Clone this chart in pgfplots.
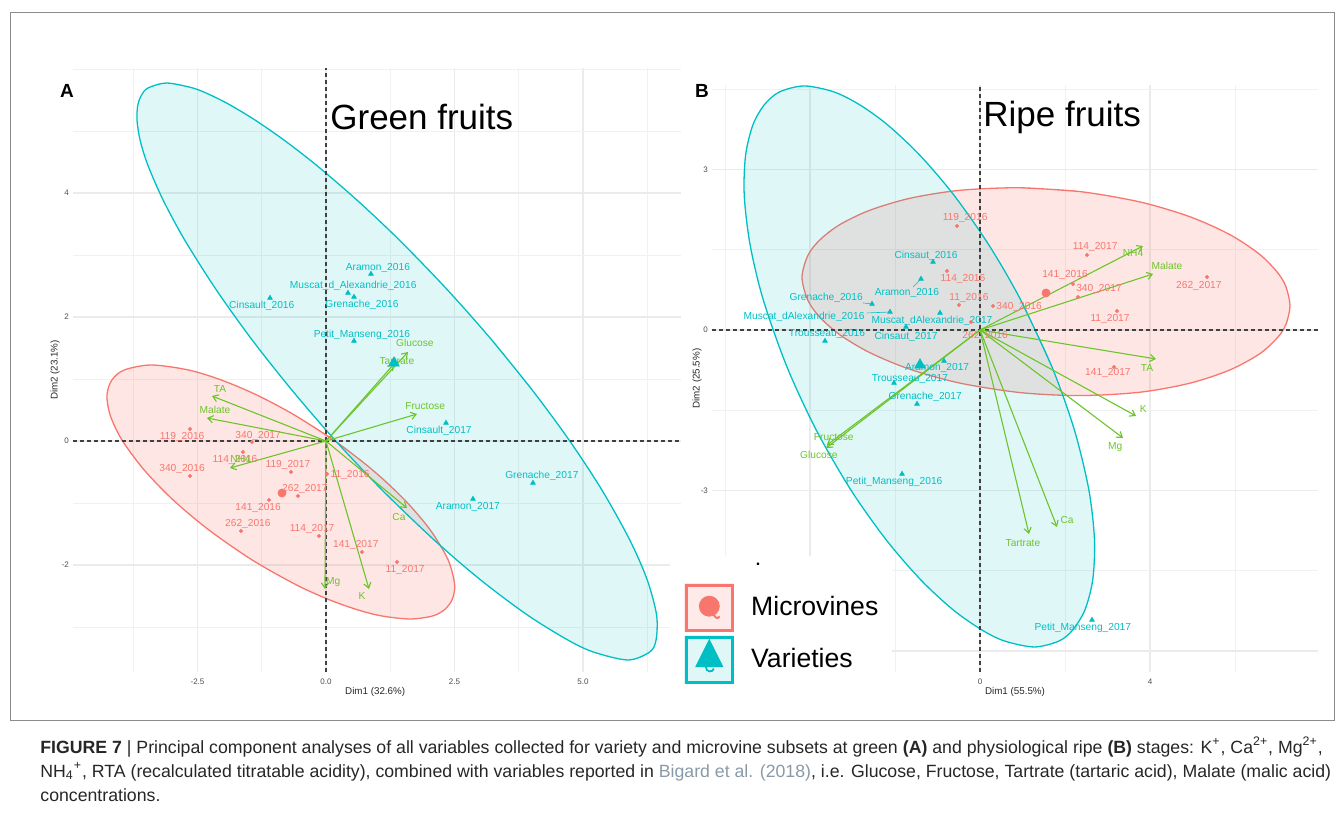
\documentclass[border=0pt]{standalone}
\usepackage{pgfplots}
\pgfplotsset{compat=1.18}
\usetikzlibrary{arrows.meta}
\usepackage{fontspec}
\setmainfont{Liberation Sans}
\definecolor{mred}{HTML}{F8766D}
\definecolor{mteal}{HTML}{00BFC4}
\definecolor{mgreen}{RGB}{108,196,42}
\definecolor{gridc}{HTML}{EBEBEB}
\definecolor{tickc}{HTML}{4D4D4D}
\definecolor{linkc}{HTML}{8A99A8}
\newcommand{\fs}[1]{\fontsize{#1}{#1}\selectfont}
\tikzset{
 rl/.style={font=\fs{5.1}, text=mred, inner sep=0pt},
 tl/.style={font=\fs{5.1}, text=mteal, inner sep=0pt},
 gl/.style={font=\fs{5.1}, text=mgreen, inner sep=0pt},
}
\pgfplotsset{
 pcastyle/.style={
  scale only axis, axis line style={draw=none}, tick style={draw=none},
  grid=both, major grid style={color=gridc, line width=0.55pt},
  minor grid style={color=gridc!70, line width=0.35pt},
  tick label style={font=\fs{4}, text=tickc},
  xticklabel style={yshift=0pt},
  yticklabel style={xshift=1.5pt},
  label style={font=\fs{4.9}, text=black!85},
 },
 ell/.style={smooth, line width=0.65pt},
 dl/.style={color=black!75, line width=0.6pt, dash pattern=on 2pt off 1.5pt},
 arr/.style={color=mgreen, line width=0.55pt, -{Straight Barb[length=2.6pt,width=3.6pt]}},
}
\begin{document}
\begin{tikzpicture}
\path[use as bounding box] (0,0) rectangle (672pt,-408pt);
\draw[black!45, line width=0.5pt] (5pt,-6pt) rectangle (667pt,-360pt);

% ---------------- Panel A ----------------
\begin{axis}[pcastyle, at={(36.5pt,-336pt)}, anchor=south west, width=304pt, height=302pt,
 xmin=-4.922, xmax=6.907, ymin=-3.726, ymax=6.016,
 xtick={-2.5,0,2.5,5}, xticklabels={-2.5,0.0,2.5,5.0}, minor xtick={-3.75,-1.25,1.25,3.75,6.25},
 ytick={-2,0,2,4}, yticklabels={-2,0,2,4}, minor ytick={-3,-1,1,3,5,6},
 xlabel={Dim1 (32.6\%)}, ylabel={Dim2 (23.1\%)},
 xlabel style={at={(axis description cs:0.497,-0.0331)}, anchor=center},
 ylabel style={at={(axis description cs:-0.0296,0.5)}, anchor=center},
]
\addplot[ell, draw=mred, fill=mred, fill opacity=0.18] coordinates {
(-0.613,0.419) (0.148,0.016) (0.907,-0.468) (1.533,-0.952) (2.029,-1.435) (2.377,-1.919)
(2.504,-2.323) (2.451,-2.565) (2.298,-2.726) (2.070,-2.823) (1.642,-2.871) (1.093,-2.823)
(0.628,-2.726) (0.078,-2.565) (-0.570,-2.323) (-1.436,-1.919) (-2.278,-1.435) (-2.973,-0.952)
(-3.537,-0.468) (-3.969,0.016) (-4.200,0.419) (-4.261,0.742) (-4.165,0.984) (-3.926,1.145)
(-3.399,1.226) (-2.673,1.145) (-2.037,0.984) (-1.346,0.742) (-0.613,0.419) (0.148,0.016)};
\addplot[ell, draw=mteal, fill=mteal, fill opacity=0.12] coordinates {
(3.226,1.629) (4.012,0.823) (4.730,0.016) (5.368,-0.790) (5.911,-1.597) (6.251,-2.242)
(6.432,-2.806) (6.422,-3.210) (6.300,-3.403) (5.875,-3.532) (5.202,-3.403) (4.706,-3.210)
(3.918,-2.806) (3.010,-2.242) (2.105,-1.597) (1.091,-0.790) (0.173,0.016) (-0.665,0.823)
(-1.436,1.629) (-2.132,2.435) (-2.749,3.242) (-3.169,3.887) (-3.467,4.452) (-3.617,4.855)
(-3.677,5.177) (-3.661,5.419) (-3.588,5.581) (-3.461,5.694) (-3.105,5.774) (-2.593,5.694)
(-2.249,5.581) (-1.864,5.419) (-1.381,5.177) (-0.819,4.855) (-0.191,4.452) (0.601,3.887)
(1.426,3.242) (2.366,2.435) (3.226,1.629) (4.012,0.823)};
\addplot[dl] coordinates {(-4.922,0) (6.907,0)};
\addplot[dl] coordinates {(0,-3.726) (0,6.016)};
% arrows
\addplot[arr] coordinates {(0,0) (-2.218,0.726)};
\addplot[arr] coordinates {(0,0) (-2.315,0.371)};
\addplot[arr] coordinates {(0,0) (-1.868,-0.435)};
\addplot[arr] coordinates {(0,0) (1.770,0.435)};
\addplot[arr] coordinates {(0,0) (1.595,1.435)};
\addplot[arr] coordinates {(0,0) (1.323,1.242)};
\addplot[arr] coordinates {(0,0) (1.576,-1.081)};
\addplot[arr] coordinates {(0,0) (-0.02,-2.387)};
\addplot[arr] coordinates {(0,0) (0.837,-2.387)};
% points
\addplot[only marks, mark=*, mark size=0.8pt, color=mred] coordinates {
(-2.646,0.194) (-1.440,-0.016) (-1.615,-0.177) (-2.646,-0.565) (-0.681,-0.5) (0.02,-0.532)
(-0.545,-0.887) (-1.109,-0.952) (-1.654,-1.452) (-0.136,-1.532) (0.700,-1.790) (1.381,-1.952)};
\addplot[only marks, mark=*, mark size=2pt, color=mred] coordinates {(-0.856,-0.839)};
\addplot[only marks, mark=triangle*, mark size=1.3pt, color=mteal] coordinates {
(0.875,2.694) (0.428,2.387) (0.545,2.323) (-1.089,2.306) (0.545,1.613) (2.335,0.290)
(4.027,-0.677) (2.860,-0.935)};
\addplot[only marks, mark=triangle*, mark size=3pt, color=mteal] coordinates {(1.323,1.258)};
% labels
\node[rl] at (axis cs:-2.80,0.06) {119\_2016};
\node[rl] at (axis cs:-1.32,0.08) {340\_2017};
\node[rl] at (axis cs:-1.77,-0.31) {114\_2016};
\node[rl] at (axis cs:-2.80,-0.45) {340\_2016};
\node[rl] at (axis cs:-0.74,-0.39) {119\_2017};
\node[rl] at (axis cs:0.47,-0.55) {11\_2016};
\node[rl] at (axis cs:-0.41,-0.77) {262\_2017};
\node[rl] at (axis cs:-1.32,-1.08) {141\_2016};
\node[rl] at (axis cs:-1.52,-1.34) {262\_2016};
\node[rl] at (axis cs:-0.27,-1.42) {114\_2017};
\node[rl] at (axis cs:0.58,-1.68) {141\_2017};
\node[rl] at (axis cs:1.54,-2.08) {11\_2017};
\node[tl] at (axis cs:1.01,2.79) {Aramon\_2016};
\node[tl] at (axis cs:0.53,2.50) {Muscat\_d\_Alexandrie\_2016};
\node[tl] at (axis cs:0.70,2.19) {Grenache\_2016};
\node[tl] at (axis cs:-1.25,2.18) {Cinsault\_2016};
\node[tl] at (axis cs:0.70,1.71) {Petit\_Manseng\_2016};
\node[tl] at (axis cs:2.20,0.16) {Cinsault\_2017};
\node[tl] at (axis cs:4.20,-0.56) {Grenache\_2017};
\node[tl] at (axis cs:2.76,-1.06) {Aramon\_2017};
\node[gl] at (axis cs:-2.06,0.84) {TA};
\node[gl] at (axis cs:-2.16,0.50) {Malate};
\node[gl] at (axis cs:-1.66,-0.29) {NH4};
\node[gl] at (axis cs:1.93,0.56) {Fructose};
\node[gl] at (axis cs:1.73,1.58) {Glucose};
\node[gl] at (axis cs:1.38,1.29) {Tartrate};
\node[gl] at (axis cs:1.42,-1.23) {Ca};
\node[gl] at (axis cs:0.14,-2.27) {Mg};
\node[gl] at (axis cs:0.70,-2.50) {K};
\end{axis}

% ---------------- Panel B ----------------
\begin{axis}[pcastyle, at={(356pt,-336pt)}, anchor=south west, width=303pt, height=293.5pt,
 xmin=-6.306, xmax=7.953, ymin=-6.393, ymax=4.579,
 xtick={-4,0,4}, xticklabels={-4,0,4}, minor xtick={-6,-2,2,6},
 ytick={-6,-3,0,3}, yticklabels={-6,-3,0,3}, minor ytick={-4.5,-1.5,1.5,4.5},
 xlabel={Dim1 (55.5\%)}, ylabel={Dim2 (25.5\%)},
 xlabel style={at={(axis description cs:0.5,-0.0341)}, anchor=center},
 ylabel style={at={(axis description cs:-0.0248,0.5)}, anchor=center},
 legend cell align=left,
 legend style={at={(-0.0693,0.1976)}, anchor=north west, fill=white, draw=none,
   inner xsep=7pt, inner ysep=13.5pt, row sep=1.5pt, column sep=8.5pt,
   font=\fs{13.3}, nodes={inner sep=0pt}},
]
\addlegendimage{legend image code/.code={
  \fill[mred!15] (0,-12pt) rectangle (24.5pt,12pt);
  \draw[mred, line width=1.5pt] (0.75pt,-11.25pt) rectangle (23.75pt,11.25pt);
  \fill[mred] (12.25pt,0.8pt) circle (5pt);
  \draw[mred, line width=1pt] (14.5pt,-3.5pt) .. controls (15.5pt,-5.5pt) and (17pt,-5.5pt) .. (17.5pt,-4.5pt);
}}
\addlegendentry{Microvines}
\addlegendimage{legend image code/.code={
  \fill[mteal!12] (0,-12pt) rectangle (24.5pt,12pt);
  \draw[mteal, line width=1.5pt] (0.75pt,-11.25pt) rectangle (23.75pt,11.25pt);
  \fill[mteal] (12.25pt,10pt) -- (19pt,-3.5pt) -- (5.5pt,-3.5pt) -- cycle;
  \draw[mteal, line width=0.9pt] (10.5pt,-3.5pt) .. controls (10.5pt,-6.5pt) and (14pt,-6.5pt) .. (14.5pt,-4.5pt);
}}
\addlegendentry{Varieties}
\addplot[ell, draw=mred, fill=mred, fill opacity=0.18, forget plot] coordinates {
(0.941,2.658) (2.353,2.587) (3.765,2.393) (4.941,2.116) (5.882,1.781) (6.588,1.409)
(7.012,1.062) (7.200,0.804) (7.294,0.452) (7.200,0.108) (7.012,-0.131) (6.588,-0.441)
(5.882,-0.746) (4.941,-0.994) (3.765,-1.163) (2.353,-1.226) (0.941,-1.170) (-0.471,-0.993)
(-1.647,-0.735) (-2.588,-0.426) (-3.294,-0.092) (-3.765,0.236) (-4.047,0.550) (-4.188,0.981)
(-4.047,1.398) (-3.765,1.686) (-3.294,1.972) (-2.588,2.239) (-1.647,2.462) (-0.471,2.611)
(0.941,2.658) (2.353,2.587)};
\addplot[ell, draw=mteal, fill=mteal, fill opacity=0.12, forget plot] coordinates {
(0.958,0.561) (1.689,-0.682) (2.221,-1.869) (2.562,-2.991) (2.694,-3.925) (2.652,-4.673)
(2.468,-5.234) (2.181,-5.607) (1.861,-5.813) (1.278,-5.925) (0.576,-5.813) (0.045,-5.607)
(-0.628,-5.234) (-1.391,-4.673) (-2.205,-3.925) (-3.038,-2.991) (-3.854,-1.869) (-4.546,-0.682)
(-5.099,0.561) (-5.409,1.589) (-5.548,2.523) (-5.515,3.271) (-5.344,3.832) (-5.078,4.206)
(-4.720,4.449) (-4.134,4.561) (-3.435,4.449) (-2.824,4.206) (-2.172,3.832) (-1.421,3.271)
(-0.616,2.523) (0.209,1.589) (0.958,0.561) (1.689,-0.682)};
\addplot[dl, forget plot] coordinates {(-6.306,0) (7.953,0)};
\addplot[dl, forget plot] coordinates {(0,-6.393) (0,4.579)};
% repel segments
\addplot[mteal, line width=0.3pt, forget plot] coordinates {(-1.576,0.804) (-1.388,0.953)};
\addplot[mteal, line width=0.3pt, forget plot] coordinates {(-2.753,0.505) (-2.541,0.486)};
\addplot[mteal, line width=0.3pt, forget plot] coordinates {(-2.659,0.318) (-2.118,0.336)};
% arrows
\addplot[arr, forget plot] coordinates {(0,0) (3.835,1.570)};
\addplot[arr, forget plot] coordinates {(0,0) (4.071,1.047)};
\addplot[arr, forget plot] coordinates {(0,0) (4.141,-0.542)};
\addplot[arr, forget plot] coordinates {(0,0) (3.671,-1.607)};
\addplot[arr, forget plot] coordinates {(0,0) (3.365,-2.019)};
\addplot[arr, forget plot] coordinates {(0,0) (1.812,-3.682)};
\addplot[arr, forget plot] coordinates {(0,0) (1.153,-3.813)};
\addplot[arr, forget plot] coordinates {(0,0) (-3.60,-2.150)};
\addplot[arr, forget plot] coordinates {(0,0) (-3.62,-2.206)};
% points
\addplot[only marks, mark=*, mark size=0.8pt, color=mred, forget plot] coordinates {
(-0.541,1.944) (-0.776,1.103) (-0.494,0.467) (0.306,0.449) (-0.212,0.150) (2.188,0.860)
(2.518,1.402) (2.306,0.617) (3.224,0.355) (5.341,0.991) (3.153,-0.692)};
\addplot[only marks, mark=*, mark size=2pt, color=mred, forget plot] coordinates {(1.553,0.692)};
\addplot[only marks, mark=triangle*, mark size=1.3pt, color=mteal, forget plot] coordinates {
(-1.106,1.271) (-1.388,0.953) (-2.541,0.486) (-2.118,0.336) (-0.941,0.318) (-1.741,0.056)
(-3.647,-0.206) (-0.847,-0.579) (-2.024,-0.991) (-1.482,-1.383) (-1.835,-2.692) (2.635,-5.421)};
\addplot[only marks, mark=triangle*, mark size=3pt, color=mteal, forget plot] coordinates {(-1.412,-0.654)};
% labels
\node[rl] at (axis cs:-0.35,2.09) {119\_2016};
\node[rl] at (axis cs:-0.40,0.95) {114\_2016};
\node[rl] at (axis cs:-0.26,0.60) {11\_2016};
\node[rl] at (axis cs:0.92,0.43) {340\_2016};
\node[rl] at (axis cs:0.12,-0.11) {262\_2016};
\node[rl] at (axis cs:2.00,1.03) {141\_2016};
\node[rl] at (axis cs:2.71,1.55) {114\_2017};
\node[rl] at (axis cs:2.80,0.77) {340\_2017};
\node[rl] at (axis cs:3.06,0.21) {11\_2017};
\node[rl] at (axis cs:5.15,0.82) {262\_2017};
\node[rl] at (axis cs:3.01,-0.80) {141\_2017};
\node[tl] at (axis cs:-1.27,1.38) {Cinsaut\_2016};
\node[tl] at (axis cs:-1.72,0.69) {Aramon\_2016};
\node[tl] at (axis cs:-3.62,0.60) {Grenache\_2016};
\node[tl] at (axis cs:-4.14,0.24) {Muscat\_dAlexandrie\_2016};
\node[tl] at (axis cs:-1.13,0.17) {Muscat\_dAlexandrie\_2017};
\node[tl] at (axis cs:-1.74,-0.13) {Cinsaut\_2017};
\node[tl] at (axis cs:-3.60,-0.07) {Trousseau\_2016};
\node[tl] at (axis cs:-1.01,-0.71) {Aramon\_2017};
\node[tl] at (axis cs:-1.65,-0.92) {Trousseau\_2017};
\node[tl] at (axis cs:-1.29,-1.25) {Grenache\_2017};
\node[tl] at (axis cs:-2.02,-2.84) {Petit\_Manseng\_2016};
\node[tl] at (axis cs:2.42,-5.57) {Petit\_Manseng\_2017};
\node[gl] at (axis cs:3.60,1.44) {NH4};
\node[gl] at (axis cs:4.40,1.20) {Malate};
\node[gl] at (axis cs:3.93,-0.71) {TA};
\node[gl] at (axis cs:3.84,-1.48) {K};
\node[gl] at (axis cs:3.18,-2.19) {Mg};
\node[gl] at (axis cs:2.05,-3.55) {Ca};
\node[gl] at (axis cs:1.01,-3.98) {Tartrate};
\node[gl] at (axis cs:-3.44,-2.00) {Fructose};
\node[gl] at (axis cs:-3.79,-2.34) {Glucose};
\end{axis}

% panel letters and titles
\node[font=\bfseries\fs{9.5}, inner sep=0pt] at (33.5pt,-45.5pt) {A};
\node[font=\bfseries\fs{9.5}, inner sep=0pt] at (351pt,-45.5pt) {B};
\node[font=\fs{17.5}, anchor=west, inner sep=0pt] at (165pt,-58.5pt) {Green fruits};
\node[font=\fs{17.5}, anchor=west, inner sep=0pt] at (491.5pt,-58.5pt) {Ripe fruits};
\node[font=\bfseries\fs{8}, inner sep=0pt] at (379pt,-282pt) {.};

% caption
\node[font=\fs{8.85}, anchor=base west, inner sep=0pt, text=black!85] at (20pt,-376.5pt)
 {\textbf{FIGURE 7} | Principal component analyses of all variables collected for variety and microvine subsets at green \textbf{(A)} and physiological ripe \textbf{(B)} stages: K\textsuperscript{+}, Ca\textsuperscript{2+}, Mg\textsuperscript{2+},};
\node[font=\fs{8.85}, anchor=base west, inner sep=0pt, text=black!85] at (20pt,-388.5pt)
 {NH\textsubscript{4}\textsuperscript{+}, RTA (recalculated titratable acidity), combined with variables reported in {\color{linkc}Bigard et al. (2018)}, i.e. Glucose, Fructose, Tartrate (tartaric acid), Malate (malic acid)};
\node[font=\fs{8.85}, anchor=base west, inner sep=0pt, text=black!85] at (20pt,-400.5pt)
 {concentrations.};
\end{tikzpicture}
\end{document}
